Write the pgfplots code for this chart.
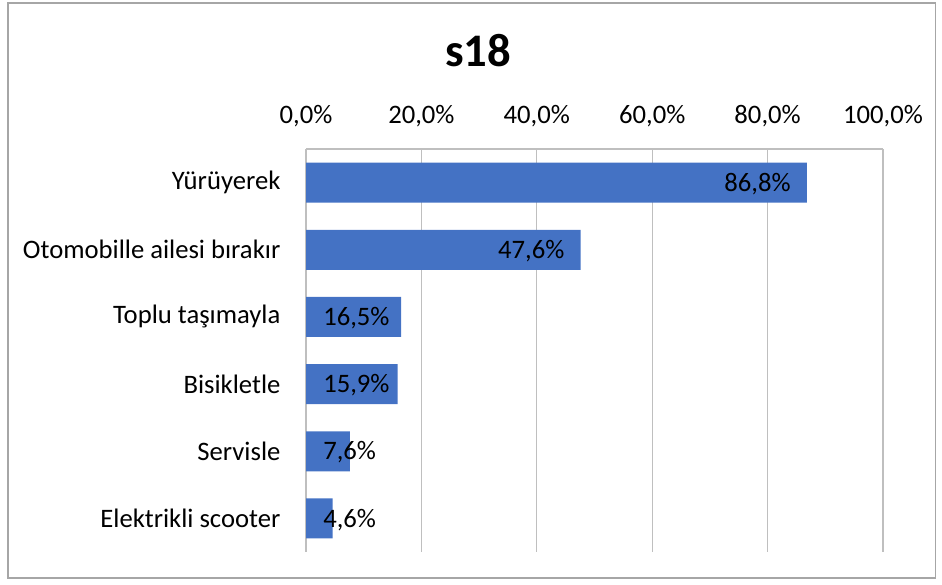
\documentclass[border=0pt]{standalone}
\usepackage{pgfplots}
\pgfplotsset{compat=1.18}
\usepackage{fontspec}
\setmainfont{Carlito}
\definecolor{barblue}{HTML}{4472C4}
\definecolor{gridgray}{HTML}{BFBFBF}
\definecolor{framegray}{HTML}{A6A6A6}

\begin{document}
\begin{tikzpicture}
% 1px = 0.75pt, canvas 942x585 px
\path (0,0) rectangle (706.5pt,-438.75pt);
\draw[framegray, line width=1pt] (6pt,-2.25pt) rectangle (701.5pt,-433.5pt);
\node[anchor=base, font=\fontsize{35}{38}\selectfont\bfseries] at (358.5pt,-50.25pt) {s18};
\begin{axis}[
    at={(229.5pt,-111.75pt)}, anchor=north west,
    scale only axis,
    width=432.75pt, height=302.25pt,
    xmin=0, xmax=100,
    ymin=-0.5, ymax=5.5,
    y dir=reverse,
    axis x line=top, axis y line=left,
    axis line style={-, draw=gridgray, line width=0.9pt},
    xtick={0,20,40,60,80,100},
    xticklabels={{0,0\%},{20,0\%},{40,0\%},{60,0\%},{80,0\%},{100,0\%}},
    ytick={0,1,2,3,4,5},
    yticklabels={Yürüyerek, Otomobille ailesi bırakır, Toplu taşımayla, Bisikletle, Servisle, Elektrikli scooter},
    major tick length=0pt,
    xmajorgrids,
    major grid style={draw=gridgray, line width=0.9pt},
    tick label style={font=\fontsize{20}{24}\selectfont},
    xticklabel style={anchor=base, inner sep=0pt, yshift=19.5pt},
    yticklabel style={anchor=east, inner sep=0pt, xshift=-19pt},
    clip=false,
]
\addplot[xbar, bar width=30pt, fill=barblue, draw=none] coordinates {
    (86.8,0) (47.6,1) (16.5,2) (15.9,3) (7.6,4) (4.6,5)
};
% labels inside bar end (large bars)
\addplot[draw=none, mark=none, nodes near coords, point meta=explicit symbolic,
    every node near coord/.append style={anchor=base east, inner sep=0pt, xshift=-12pt, yshift=-6.5pt, text=black, font=\fontsize{20}{24}\selectfont}]
    coordinates {(86.8,0)[86,8\%] (47.6,1)[47,6\%]};
% labels clamped at bar base (short bars)
\addplot[draw=none, mark=none, nodes near coords, point meta=explicit symbolic,
    every node near coord/.append style={anchor=base west, inner sep=0pt, xshift=12.75pt, yshift=-6.5pt, text=black, font=\fontsize{20}{24}\selectfont}]
    coordinates {(0,2)[16,5\%] (0,3)[15,9\%] (0,4)[7,6\%] (0,5)[4,6\%]};
\end{axis}
\end{tikzpicture}
\end{document}
